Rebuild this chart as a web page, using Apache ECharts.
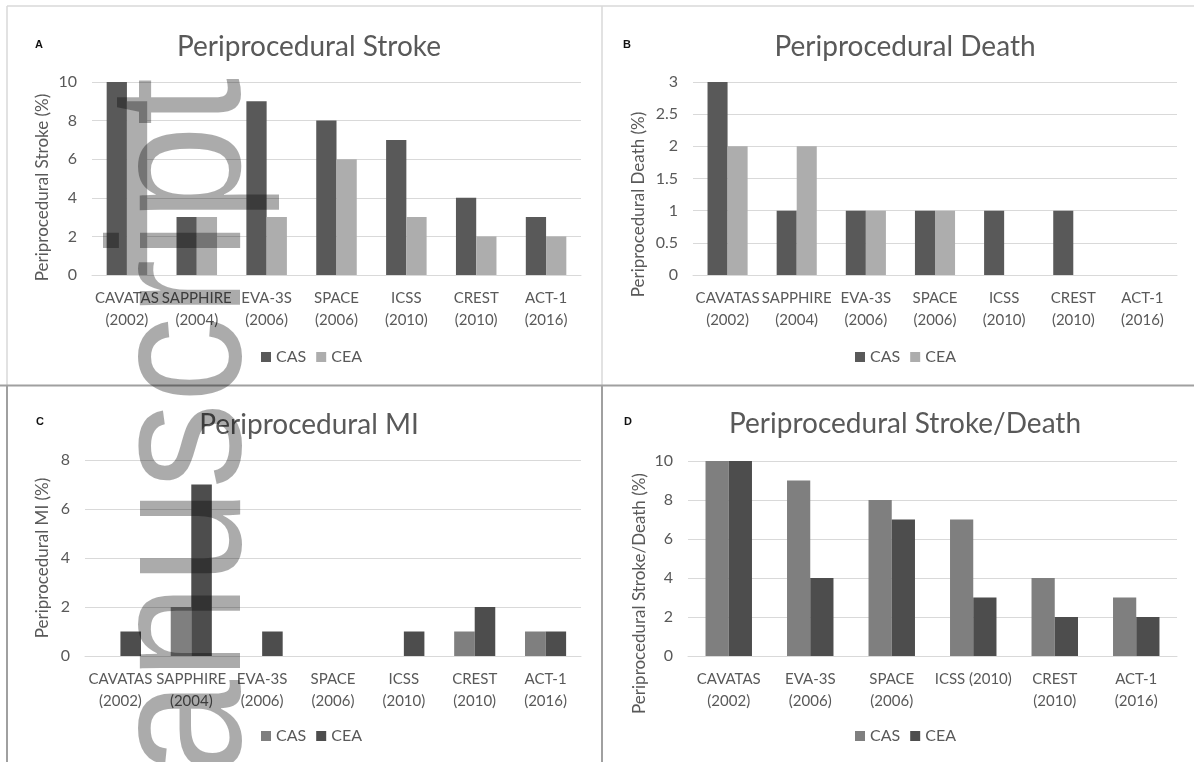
<!DOCTYPE html>
<html>
<head>
<meta charset="utf-8">
<script src="https://cdn.jsdelivr.net/npm/echarts@6/dist/echarts.min.js"></script>
<style>
html,body{margin:0;padding:0;background:#fff;}
#c{width:1194px;height:762px;}
</style>
</head>
<body>
<div id="c"></div>
<script>
// ---- data ----
const trials = ['CAVATAS\n(2002)','SAPPHIRE\n(2004)','EVA-3S\n(2006)','SPACE\n(2006)','ICSS\n(2010)','CREST\n(2010)','ACT-1\n(2016)'];
const trialsD = ['CAVATAS\n(2002)','EVA-3S\n(2006)','SPACE\n(2006)','ICSS (2010)','CREST\n(2010)','ACT-1\n(2016)'];
const strokeCAS = [10, 3, 9, 8, 7, 4, 3];
const strokeCEA = [9, 3, 3, 6, 3, 2, 2];
const deathCAS = [3, 1, 1, 1, 1, 1, 0];
const deathCEA = [2, 2, 1, 1, 0, 0, 0];
const miCAS = [0, 2, 0, 0, 0, 1, 1];
const miCEA = [1, 7, 1, 0, 1, 2, 1];
const sdCAS = [10, 9, 8, 7, 4, 3];
const sdCEA = [10, 4, 7, 3, 2, 2];
const panelTitles = ['Periprocedural Stroke','Periprocedural Death','Periprocedural MI','Periprocedural Stroke/Death'];
const axisNames = ['Periprocedural Stroke (%)','Periprocedural Death (%)','Periprocedural MI (%)','Periprocedural Stroke/Death (%)'];
const panelLetters = ['A','B','C','D'];
const legendNames = ['CAS','CEA'];
const watermark = 'Manuscript';

// ---- style ----
const FONT = 'Lato';
const TXT = '#595959';
const GRIDC = '#d9d9d9';
const colAB = {CAS:'#595959', CEA:'#adadad'};
const colCD = {CAS:'#7f7f7f', CEA:'#4d4d4d'};

const grids = [
  {left:92, right:1194-581, top:82, bottom:762-275},
  {left:693, right:1194-1177, top:82, bottom:762-275},
  {left:85, right:1194-581, top:460, bottom:762-656},
  {left:688, right:1194-1177, top:461, bottom:762-656}
];
const yCfg = [
  {max:10, interval:2, gap:41, pad:18},
  {max:3, interval:0.5, gap:46, pad:52},
  {max:8, interval:2, gap:34, pad:0},
  {max:10, interval:2, gap:40, pad:70}
];

const xAxes = [trials, trials, trials, trialsD].map((cats, i) => ({
  type:'category', gridIndex:i, data:cats,
  axisLine:{lineStyle:{color:GRIDC, width:1}},
  axisTick:{show:false},
  axisLabel:{interval:0, color:TXT, fontFamily:FONT, fontSize:15, lineHeight:22, margin:12}
}));
const yAxes = yCfg.map((c, i) => ({
  type:'value', gridIndex:i, min:0, max:c.max, interval:c.interval,
  name:axisNames[i], nameLocation:'middle', nameGap:c.gap,
  nameTextStyle:{color:TXT, fontFamily:FONT, fontSize:17, padding:[0, c.pad, 0, 0]},
  axisLine:{show:false}, axisTick:{show:false},
  axisLabel:{color:TXT, fontFamily:FONT, fontSize:16, margin:15},
  splitLine:{lineStyle:{color:GRIDC, width:1}}
}));

const seriesData = [
  [strokeCAS, strokeCEA, colAB, '42%'],
  [deathCAS, deathCEA, colAB, '42%'],
  [miCAS, miCEA, colCD, '42%'],
  [sdCAS, sdCEA, colCD, '43%']
];
const series = [];
seriesData.forEach((s, i) => {
  [0,1].forEach(k => {
    const nm = legendNames[k];
    series.push({
      type:'bar', name:nm, xAxisIndex:i, yAxisIndex:i,
      data:s[k], barGap:'0%', barCategoryGap:s[3],
      itemStyle:{color:s[2][nm]}, silent:true
    });
  });
});

const titleCenters = [[304,42],[900,42],[304,420],[900,419]];
const titles = panelTitles.map((t, i) => ({
  text:t, left:titleCenters[i][0], top:titleCenters[i][1], textAlign:'center', textVerticalAlign:'middle',
  textStyle:{color:TXT, fontFamily:FONT, fontSize:28, fontWeight:'normal'}
}));

const legendPos = [[261,349],[855,349],[261,728],[855,728]];
const legends = legendPos.map((p, i) => {
  const col = i < 2 ? colAB : colCD;
  return {
    left:p[0], top:p[1], padding:0, itemWidth:10, itemHeight:10, itemGap:10, icon:'rect',
    textStyle:{color:TXT, fontFamily:FONT, fontSize:16},
    data:legendNames.map(n => ({name:n, itemStyle:{color:col[n]}})),
    selectedMode:false
  };
});

const letterPos = [[39,45],[627,45],[40,422],[628,422]];
const graphics = [];
panelLetters.forEach((l, i) => {
  graphics.push({type:'text', x:letterPos[i][0], y:letterPos[i][1],
    style:{text:l, fill:'#111', font:'bold 11px "Liberation Sans"', align:'center', verticalAlign:'middle'}});
});
const lines = [
  [7,6,1194,6,'#d9d9d9',1.5],
  [7,6,7,385,'#d9d9d9',1.5],
  [602,6,602,385,'#d9d9d9',1.5],
  [7,385,7,762,'#a0a0a0',2],
  [602,385,602,762,'#a0a0a0',2],
  [0,385.5,1194,385.5,'#a0a0a0',2]
];
lines.forEach(l => graphics.push({type:'line', shape:{x1:l[0],y1:l[1],x2:l[2],y2:l[3]},
  style:{stroke:l[4], lineWidth:l[5]}, silent:true, z:50}));
// watermark overlay: translucent black == multiply with light grey
graphics.push({type:'text', x:188, y:919, rotation:Math.PI/2, scaleY:1.1, z:100, silent:true,
  style:{text:watermark, fill:'rgba(0,0,0,0.33)', font:'172px "Liberation Sans"', align:'left', verticalAlign:'middle'}});

const chart = echarts.init(document.getElementById('c'), null, {renderer:'canvas'});
chart.setOption({
  animation:false,
  backgroundColor:'#ffffff',
  title:titles,
  legend:legends,
  grid:grids,
  xAxis:xAxes,
  yAxis:yAxes,
  series:series,
  graphic:graphics
});
</script>
</body>
</html>
